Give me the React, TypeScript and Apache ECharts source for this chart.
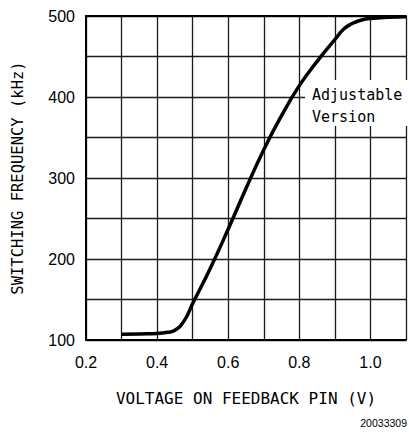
import React, { useEffect, useRef } from "react";
import * as echarts from "echarts";

const voltage = [0.3, 0.35, 0.4, 0.43, 0.45, 0.475, 0.5, 0.55, 0.6, 0.65, 0.7, 0.75, 0.8, 0.85, 0.9, 0.925, 0.95, 0.975, 1.0, 1.05, 1.1];
const frequency = [107, 107.5, 108, 109.5, 112, 123, 145, 189, 237, 287, 335, 377, 414, 444, 471, 484, 491, 495, 497, 498.5, 499];
const xLabels = ["0.2", "0.4", "0.6", "0.8", "1.0"];
const yLabels = ["100", "200", "300", "400", "500"];
const xTitle = "VOLTAGE ON FEEDBACK PIN (V)";
const yTitle = "SWITCHING FREQUENCY (kHz)";
const noteLines = ["Adjustable", "Version"];
const figureId = "20033309";

export default function App() {
  const ref = useRef<HTMLDivElement>(null);
  useEffect(() => {
    if (!ref.current) return;
    const chart = echarts.init(ref.current, null, { renderer: "svg" });
    const mono = "DejaVu Sans Mono";
    const sans = "Liberation Sans";
    chart.setOption({
      animation: false,
      backgroundColor: "#fff",
      grid: { left: 86, top: 16, right: -1, bottom: 94, containLabel: false },
      xAxis: [
        {
          type: "value",
          min: 0.2,
          max: 1.1,
          interval: 0.1,
          axisLine: { show: true, onZero: false, lineStyle: { color: "#000", width: 2 } },
          axisTick: { show: false },
          splitLine: { show: true, lineStyle: { color: "#1a1a1a", width: 1.3 } },
          axisLabel: {
            color: "#000",
            fontFamily: sans,
            fontSize: 16,
            margin: 14,
            showMaxLabel: true,
            formatter: (v: number) => {
              const s = v.toFixed(1);
              return xLabels.includes(s) ? s : "";
            },
          },
          name: xTitle,
          nameLocation: "middle",
          nameGap: 50,
          nameTextStyle: { color: "#000", fontFamily: mono, fontSize: 16 },
        },
        {
          type: "value",
          position: "top",
          min: 0.2,
          max: 1.1,
          interval: 0.1,
          axisLine: { show: true, onZero: false, lineStyle: { color: "#000", width: 2 } },
          axisTick: { show: false },
          axisLabel: { show: false },
          splitLine: { show: false },
        },
      ],
      yAxis: {
        type: "value",
        min: 100,
        max: 500,
        interval: 50,
        axisLine: { show: true, onZero: false, lineStyle: { color: "#000", width: 2 } },
        axisTick: { show: false },
        splitLine: { show: true, lineStyle: { color: "#1a1a1a", width: 1.3 } },
        axisLabel: {
          color: "#000",
          fontFamily: sans,
          fontSize: 16,
          margin: 11,
          formatter: (v: number) => {
            const s = String(Math.round(v));
            return yLabels.includes(s) ? s : "";
          },
        },
        name: yTitle,
        nameLocation: "middle",
        nameGap: 60,
        nameTextStyle: { color: "#000", fontFamily: mono, fontSize: 15.5 },
      },
      graphic: [
        { type: "rect", shape: { x: 305, y: 80, width: 110, height: 46 }, style: { fill: "#fff" }, z: 10 },
        {
          type: "text",
          x: 312,
          y: 84,
          z: 11,
          style: {
            text: noteLines.join("\n"),
            fill: "#000",
            fontFamily: mono,
            fontSize: 15,
            lineHeight: 22,
          },
        },
        {
          type: "text",
          right: 2,
          top: 417,
          style: { text: figureId, fill: "#000", fontFamily: sans, fontSize: 10.5 },
        },
      ],
      series: [
        {
          type: "line",
          xAxisIndex: 0,
          data: voltage.map((v, i) => [v, frequency[i]]),
          smooth: 0.5,
          showSymbol: false,
          lineStyle: { color: "#000", width: 3.5 },
          z: 5,
        },
      ],
    });
    return () => chart.dispose();
  }, []);
  return <div ref={ref} style={{ position: "fixed", left: 0, top: 0, width: 409, height: 434 }} />;
}
